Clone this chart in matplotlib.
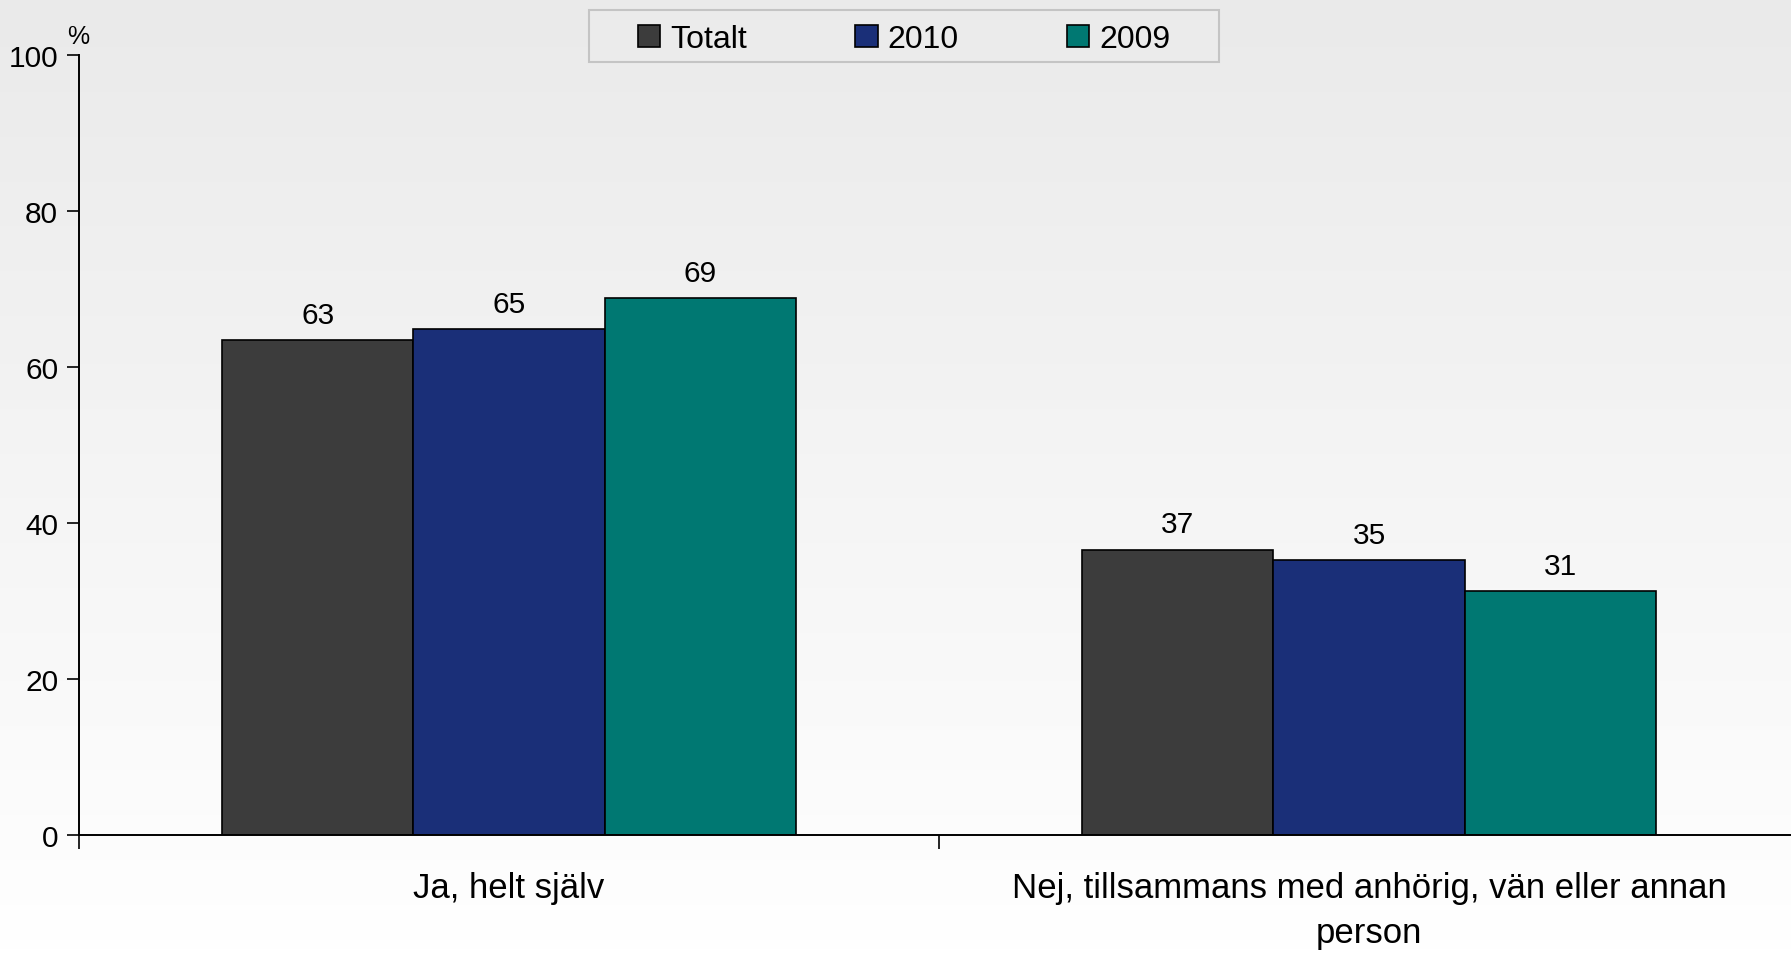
import matplotlib
matplotlib.use("Agg")
import matplotlib.pyplot as plt
from matplotlib.colors import LinearSegmentedColormap
from matplotlib.patches import Rectangle
import numpy as np

CATEGORIES = ["Ja, helt själv", "Nej, tillsammans med anhörig, vän eller annan\nperson"]
SERIES = ["Totalt", "2010", "2009"]
TOTALT = [63.4, 36.6]
Y2010 = [64.9, 35.3]
Y2009 = [68.8, 31.3]
COLORS = ["#3c3c3c", "#1a2f78", "#007872"]
YTICKS = [0, 20, 40, 60, 80, 100]

plt.rcParams['font.family'] = ['Liberation Sans', 'DejaVu Sans']

fig = plt.figure(figsize=(17.91, 9.54), dpi=100)

# light grey-to-white gradient behind everything
bg = fig.add_axes([0, 0, 1, 1], zorder=-10)
grad = np.linspace(0, 1, 256).reshape(-1, 1)
cmap = LinearSegmentedColormap.from_list("bg", ["#eaeaea", "#ffffff"])
bg.imshow(grad, aspect='auto', cmap=cmap, extent=[0, 1, 0, 1], origin='upper')
bg.axis('off')

ax = fig.add_axes([0.0441, 0.1237, 0.9604, 0.8176])
ax.set_facecolor('none')

width = 0.2225
x = np.arange(len(CATEGORIES)) + 0.5
for i, (name, vals) in enumerate(zip(SERIES, [TOTALT, Y2010, Y2009])):
    bars = ax.bar(x + (i - 1) * width, vals, width, color=COLORS[i],
                  edgecolor='black', linewidth=1.2, label=name)
    ax.bar_label(bars, labels=[f"{v:.0f}" for v in vals], padding=8, fontsize=21.5)

ax.set_xlim(0, 2)
ax.set_ylim(0, 100)
ax.set_yticks(YTICKS)
ax.tick_params(axis='y', labelsize=21.5, length=9, width=1.2, pad=6)

ax.set_xticks([0, 1, 2])
ax.set_xticklabels([])
ax.tick_params(axis='x', which='major', length=10, width=1.2)
ax.set_xticks(x, minor=True)
ax.set_xticklabels(CATEGORIES, minor=True, fontsize=25, linespacing=1.45)
ax.tick_params(axis='x', which='minor', length=0, pad=26)

for s in ['top', 'right']:
    ax.spines[s].set_visible(False)
for s in ['left', 'bottom']:
    ax.spines[s].set_linewidth(1.4)

fig.text(0.0375, 0.9486, "%", fontsize=18, ha='left', va='bottom')

# legend box drawn separately so its padding matches the original
fig.patches.append(Rectangle((589 / 1791, 1 - 63 / 954), 630 / 1791, 52 / 954,
                             transform=fig.transFigure, facecolor='#ebebeb',
                             edgecolor='#c4c4c4', linewidth=1.5, zorder=4))
handles, labels = ax.get_legend_handles_labels()
leg = fig.legend(handles, labels, loc='center', bbox_to_anchor=(904 / 1791, 1 - 40 / 954),
                 ncol=3, fontsize=23, frameon=False, handlelength=0.7,
                 handleheight=0.7, handletextpad=0.3, columnspacing=3.4,
                 borderpad=0.0, bbox_transform=fig.transFigure)
leg.set_zorder(6)

fig.savefig("out.png", dpi=100)
